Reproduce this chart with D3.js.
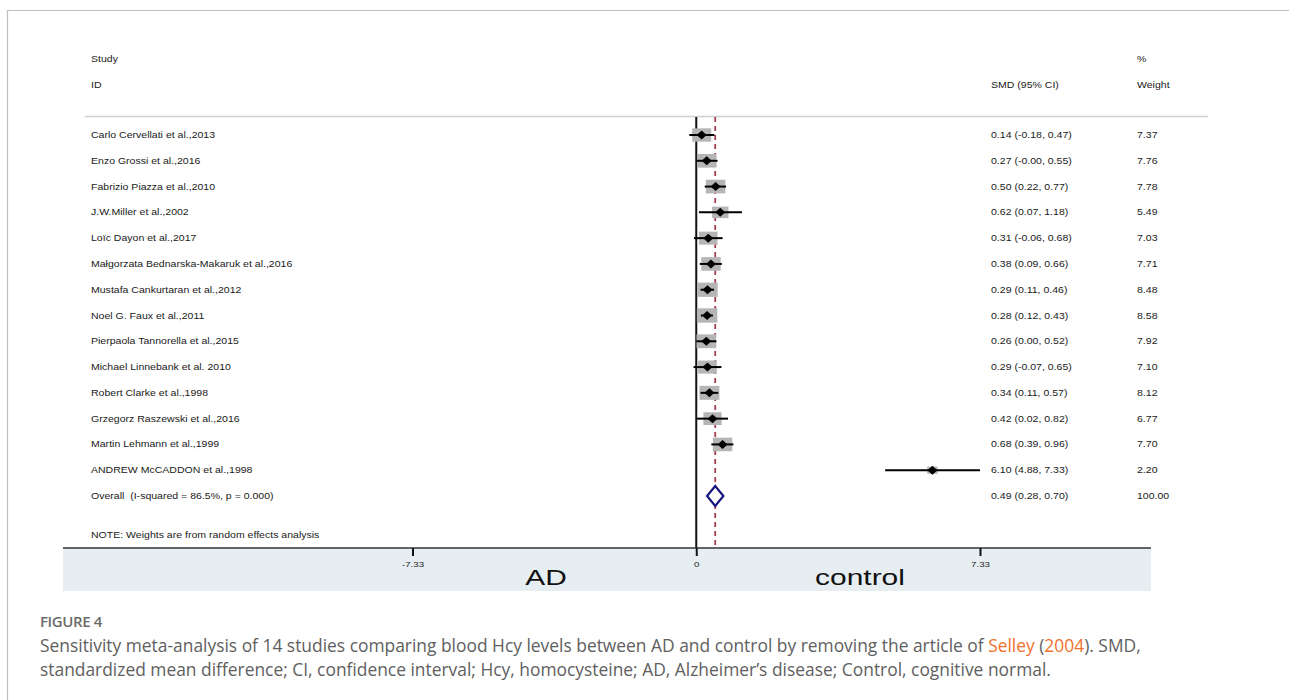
<!DOCTYPE html>
<html>
<head>
<meta charset="utf-8">
<script src="https://cdn.jsdelivr.net/npm/d3@7"></script>
<style>
  body { margin: 0; background: #fff; }
  svg { display: block; }
</style>
</head>
<body>
<svg id="chart" width="1289" height="700"></svg>
<script>
'use strict';

// study data
var studies = [
  'Carlo Cervellati et al.,2013',
  'Enzo Grossi et al.,2016',
  'Fabrizio Piazza et al.,2010',
  'J.W.Miller et al.,2002',
  'Loïc Dayon et al.,2017',
  'Małgorzata Bednarska-Makaruk et al.,2016',
  'Mustafa Cankurtaran et al.,2012',
  'Noel G. Faux et al.,2011',
  'Pierpaola Tannorella et al.,2015',
  'Michael Linnebank et al. 2010',
  'Robert Clarke et al.,1998',
  'Grzegorz Raszewski et al.,2016',
  'Martin Lehmann et al.,1999',
  'ANDREW McCADDON et al.,1998'
];
var smd   = [0.14, 0.27, 0.50, 0.62, 0.31, 0.38, 0.29, 0.28, 0.26, 0.29, 0.34, 0.42, 0.68, 6.10];
var lower = [-0.18, -0.00, 0.22, 0.07, -0.06, 0.09, 0.11, 0.12, 0.00, -0.07, 0.11, 0.02, 0.39, 4.88];
var upper = [0.47, 0.55, 0.77, 1.18, 0.68, 0.66, 0.46, 0.43, 0.52, 0.65, 0.57, 0.82, 0.96, 7.33];
var weights = [7.37, 7.76, 7.78, 5.49, 7.03, 7.71, 8.48, 8.58, 7.92, 7.10, 8.12, 6.77, 7.70, 2.20];
// CI text exactly as printed (Stata keeps "-0.00")
var ciLabels = [
  '0.14 (-0.18, 0.47)', '0.27 (-0.00, 0.55)', '0.50 (0.22, 0.77)', '0.62 (0.07, 1.18)',
  '0.31 (-0.06, 0.68)', '0.38 (0.09, 0.66)', '0.29 (0.11, 0.46)', '0.28 (0.12, 0.43)',
  '0.26 (0.00, 0.52)', '0.29 (-0.07, 0.65)', '0.34 (0.11, 0.57)', '0.42 (0.02, 0.82)',
  '0.68 (0.39, 0.96)', '6.10 (4.88, 7.33)'
];

var overall = { label: 'Overall  (I-squared = 86.5%, p = 0.000)', smd: 0.49, lower: 0.28, upper: 0.70, weight: 100.00 };
var tickValues = [-7.33, 0, 7.33];
var tickLabels = ['-7.33', '0', '7.33'];
var sideLabels = ['AD', 'control'];

var captionTitle = 'FIGURE 4';
var captionLine1 = ['Sensitivity meta-analysis of 14 studies comparing blood Hcy levels between AD and control by removing the article of ', 'Selley', ' (', '2004', '). SMD,'];
var captionLine2 = 'standardized mean difference; CI, confidence interval; Hcy, homocysteine; AD, Alzheimer\u2019s disease; Control, cognitive normal.';

var rows = studies.map(function(s, i) {
  return { study: s, smd: smd[i], lower: lower[i], upper: upper[i], weight: weights[i], ci: ciLabels[i] };
});

var fmt = d3.format('.2f');
var svg = d3.select('#chart');
var font = 'Arial, "Liberation Sans", Helvetica, sans-serif';
var stretch = 1.24; // the original graph image is stretched sideways

// text placed with a horizontal stretch
function sText(parent, px, py, str, size, opts) {
  opts = opts || {};
  var t = parent.append('text')
    .attr('transform', 'translate(' + px + ',' + py + ') scale(' + (opts.sx || stretch) + ',1)')
    .attr('font-family', font)
    .attr('font-size', size + 'px')
    .attr('fill', opts.fill || '#1a1a1a')
    .attr('text-anchor', opts.anchor || 'start')
    .style('white-space', 'pre')
    .text(str);
  return t;
}

// frame of the figure panel
svg.append('path')
  .attr('d', 'M7.5,700 V10.5 H1289')
  .attr('fill', 'none')
  .attr('stroke', '#bdbdbd')
  .attr('stroke-width', 1.2);

var x = d3.scaleLinear().domain([-7.33, 7.33]).range([412.5, 980]);
var y = d3.scaleLinear().domain([0, 14]).range([135, 496]);

var plotTop = 117, axisY = 548, bandBottom = 591;
var colSMD = 991, colW = 1137, colStudy = 91;
var fs = 8.5;

// axis band
svg.append('rect')
  .attr('x', 63).attr('y', axisY)
  .attr('width', 1151 - 63).attr('height', bandBottom - axisY)
  .attr('fill', '#e7eef1');

// header
var header = svg.append('g');
sText(header, colStudy, 62, 'Study', fs);
sText(header, colStudy, 88, 'ID', fs);
sText(header, colSMD, 88, 'SMD (95% CI)', fs);
sText(header, colW, 62, '%', fs);
sText(header, colW, 88, 'Weight', fs);

svg.append('line')
  .attr('x1', 85).attr('x2', 1208)
  .attr('y1', 116.5).attr('y2', 116.5)
  .attr('stroke', '#cfcfcf')
  .attr('stroke-width', 1.3);

// null line and overall-effect line
svg.append('line')
  .attr('x1', x(0)).attr('x2', x(0))
  .attr('y1', plotTop).attr('y2', axisY)
  .attr('stroke', '#111')
  .attr('stroke-width', 2);

svg.append('line')
  .attr('x1', x(overall.smd)).attr('x2', x(overall.smd))
  .attr('y1', plotTop).attr('y2', axisY)
  .attr('stroke', '#a3404d')
  .attr('stroke-width', 1.8)
  .attr('stroke-dasharray', '5,4');

// weight boxes
svg.selectAll('rect.box')
  .data(rows)
  .enter()
  .append('rect')
  .attr('class', 'box')
  .attr('x', function(d) { return x(d.smd) - 3.5 * Math.sqrt(d.weight); })
  .attr('y', function(d, i) { return y(i) - 2.45 * Math.sqrt(d.weight); })
  .attr('width', function(d) { return 7 * Math.sqrt(d.weight); })
  .attr('height', function(d) { return 4.9 * Math.sqrt(d.weight); })
  .attr('fill', '#b5b5b5');

// confidence intervals
svg.selectAll('line.ci')
  .data(rows)
  .enter()
  .append('line')
  .attr('class', 'ci')
  .attr('x1', function(d) { return x(d.lower); })
  .attr('x2', function(d) { return x(d.upper); })
  .attr('y1', function(d, i) { return y(i); })
  .attr('y2', function(d, i) { return y(i); })
  .attr('stroke', '#000')
  .attr('stroke-width', 2);

// point estimates
svg.selectAll('path.pt')
  .data(rows)
  .enter()
  .append('path')
  .attr('class', 'pt')
  .attr('d', function(d, i) {
    var cx = x(d.smd), cy = y(i);
    return 'M' + (cx - 5) + ',' + cy + 'L' + cx + ',' + (cy - 4.5) + 'L' + (cx + 5) + ',' + cy + 'L' + cx + ',' + (cy + 4.5) + 'Z';
  })
  .attr('fill', '#000');

// overall diamond
var oy = y(14);
svg.append('path')
  .attr('d', 'M' + x(overall.lower) + ',' + oy +
             'L' + x(overall.smd) + ',' + (oy - 10) +
             'L' + x(overall.upper) + ',' + oy +
             'L' + x(overall.smd) + ',' + (oy + 10) + 'Z')
  .attr('fill', '#fff')
  .attr('stroke', '#161681')
  .attr('stroke-width', 2.2);

// row text
var txt = svg.append('g');
rows.forEach(function(d, i) {
  sText(txt, colStudy, y(i) + 3, d.study, fs);
  sText(txt, colSMD, y(i) + 3, d.ci, fs);
  sText(txt, colW, y(i) + 3, fmt(d.weight), fs);
});
sText(txt, colStudy, oy + 3, overall.label, fs);
sText(txt, colSMD, oy + 3, fmt(overall.smd) + ' (' + fmt(overall.lower) + ', ' + fmt(overall.upper) + ')', fs);
sText(txt, colW, oy + 3, fmt(overall.weight), fs);
sText(txt, colStudy, 538, 'NOTE: Weights are from random effects analysis', fs);

// x axis
svg.append('line')
  .attr('x1', 63).attr('x2', 1151)
  .attr('y1', axisY).attr('y2', axisY)
  .attr('stroke', '#333')
  .attr('stroke-width', 1.6);

var axis = d3.axisBottom(x)
  .tickValues(tickValues)
  .tickSize(8)
  .tickFormat(function(d, i) { return tickLabels[i]; });

var gAxis = svg.append('g')
  .attr('transform', 'translate(0,' + axisY + ')')
  .call(axis);
gAxis.select('.domain').remove();
gAxis.selectAll('.tick line').attr('stroke', '#111').attr('stroke-width', 2);
gAxis.selectAll('.tick text')
  .attr('y', 0)
  .attr('dy', 0)
  .attr('transform', 'translate(0,19) scale(1.3,1)')
  .attr('font-family', font)
  .attr('font-size', '7.5px')
  .attr('fill', '#222');

sideLabels.forEach(function(s, i) {
  sText(svg, i === 0 ? 546 : 860, 585, s, 22, { sx: 1.36, anchor: 'middle', fill: '#111' });
});

// caption
var capFont = '"Open Sans", "Noto Sans", sans-serif';
svg.append('text')
  .attr('x', 40).attr('y', 627)
  .attr('font-family', capFont)
  .attr('font-size', '15px')
  .attr('font-weight', 600)
  .attr('letter-spacing', '-0.4px')
  .attr('fill', '#6b6b6b')
  .text(captionTitle);

var line1 = svg.append('text')
  .attr('x', 40).attr('y', 652)
  .attr('font-family', capFont)
  .attr('font-size', '17.4px')
  .attr('fill', '#606060');
line1.selectAll('tspan')
  .data(captionLine1)
  .enter()
  .append('tspan')
  .attr('fill', function(d, i) { return (i === 1 || i === 3) ? '#f0712c' : '#606060'; })
  .text(function(d) { return d; });

svg.append('text')
  .attr('x', 40).attr('y', 676)
  .attr('font-family', capFont)
  .attr('font-size', '17.4px')
  .attr('fill', '#606060')
  .text(captionLine2);
</script>
</body>
</html>
